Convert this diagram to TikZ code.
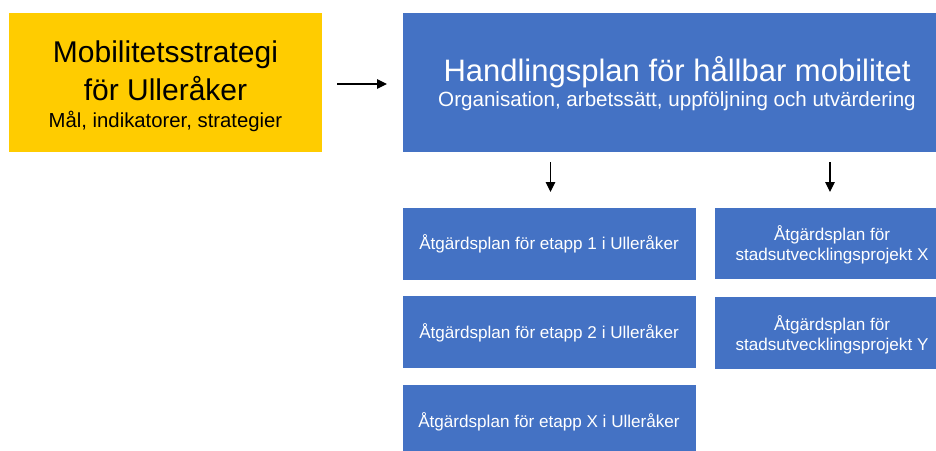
\documentclass[tikz,border=0pt]{standalone}
\usepackage{fontspec}
\setmainfont{Liberation Sans}
\usetikzlibrary{arrows.meta}
\definecolor{ybox}{HTML}{FFCC00}
\definecolor{bbox}{HTML}{4472C4}
\tikzset{
  boxbase/.style={draw=none, inner sep=0pt, outer sep=0pt, anchor=north west},
  yel/.style={boxbase, fill=ybox},
  blu/.style={boxbase, fill=bbox},
  big/.style={font=\fontsize{30}{36}\selectfont, anchor=base, inner sep=0pt},
  sub/.style={font=\fontsize{20.3}{24}\selectfont, anchor=base, inner sep=0pt},
  sml/.style={font=\fontsize{17.1}{20}\selectfont, anchor=base, inner sep=0pt, text=white},
  arr/.style={-{Triangle[length=10pt,width=9.5pt]}, line width=1.2pt, black},
}
\begin{document}
\begin{tikzpicture}[x=1pt,y=-1pt]
\useasboundingbox (0,0) rectangle (936,450);
% boxes
\node[yel, minimum width=313pt, minimum height=139pt] (ys) at (9,13) {};
\node[blu, minimum width=533pt, minimum height=139pt] (hp) at (403,13) {};
\node[blu, minimum width=293pt, minimum height=72pt] (l1) at (403,208) {};
\node[blu, minimum width=293pt, minimum height=72pt] (l2) at (403,296) {};
\node[blu, minimum width=293pt, minimum height=70pt] (l3) at (403,385) {};
\node[blu, minimum width=221pt, minimum height=71pt] (r1) at (715,208) {};
\node[blu, minimum width=221pt, minimum height=72pt] (r2) at (715,297) {};
% texts
\node[big] (ys1) at (165.5,62.7) {Mobilitetsstrategi};
\node[big] (ys2) at (165.5,100) {för Ulleråker};
\node[sub] (ys3) at (165.5,127.7) {Mål, indikatorer, strategier};
\node[big, font=\fontsize{31}{36}\selectfont, text=white] (hp1) at (677,81.7) {Handlingsplan för hållbar mobilitet};
\node[sub, font=\fontsize{20.6}{24}\selectfont, text=white] (hp2) at (677,106) {Organisation, arbetssätt, uppföljning och utvärdering};
\node[sml] (l1t) at (549,249) {Åtgärdsplan för etapp 1 i Ulleråker};
\node[sml] (l2t) at (549,338) {Åtgärdsplan för etapp 2 i Ulleråker};
\node[sml] (l3t) at (549,427) {Åtgärdsplan för etapp X i Ulleråker};
\node[sml] (r1a) at (832,240.7) {Åtgärdsplan för};
\node[sml] (r1b) at (832,260) {stadsutvecklingsprojekt X};
\node[sml] (r2a) at (832,330) {Åtgärdsplan för};
\node[sml] (r2b) at (832,350) {stadsutvecklingsprojekt Y};
% arrows
\draw[arr, shorten <=15pt, shorten >=16pt] (ys.east |- 0,84) -- (hp.west |- 0,84);
\draw[arr, shorten <=10pt, shorten >=16pt] ([xshift=1pt]l1.north |- hp.south) -- ([xshift=1pt]l1.north);
\draw[arr, shorten <=10pt, shorten >=16pt] ([xshift=4.5pt]r1.north |- hp.south) -- ([xshift=4.5pt]r1.north);
\end{tikzpicture}
\end{document}
